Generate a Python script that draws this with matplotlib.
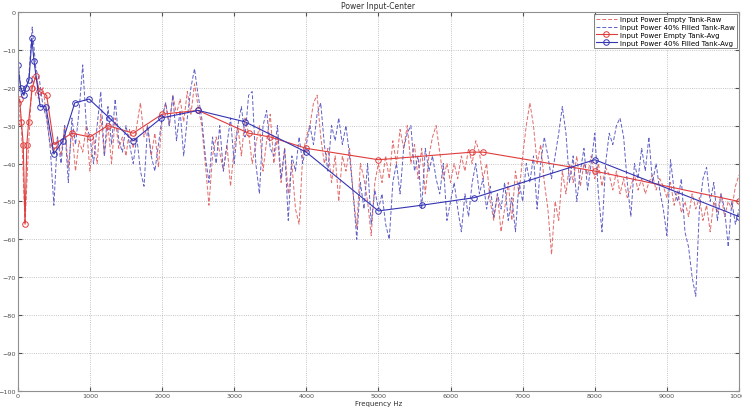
import numpy as np
import matplotlib.pyplot as plt

# raw spectra, one value every 50 Hz (0 .. 10000)
freq_raw = np.arange(0, 10001, 50)

empty_raw = [
    -24, -30, -56, -35, -17, -22, -23, -20, -28, -35,
    -37, -33, -38, -30, -41, -31, -42, -34, -37, -30,
    -42, -33, -40, -27, -38, -30, -40, -28, -36, -33,
    -38, -31, -36, -30, -24, -33, -30, -38, -32, -41,
    -28, -24, -30, -22, -27, -23, -29, -21, -27, -19,
    -25, -30, -40, -51, -38, -33, -37, -42, -35, -46,
    -36, -30, -38, -28, -32, -40, -35, -30, -42, -34,
    -27, -40, -33, -45, -36, -48, -40, -52, -56, -38,
    -33, -30, -24, -22, -33, -40, -36, -45, -38, -50,
    -38, -42, -36, -48, -57, -40, -44, -50, -59, -45,
    -40, -45, -38, -44, -34, -40, -31, -36, -30, -40,
    -35, -44, -36, -48, -38, -33, -30, -37, -44, -40,
    -45, -40, -44, -38, -42, -36, -40, -34, -37, -44,
    -40, -50, -55, -48, -58, -52, -45, -55, -42, -48,
    -38, -30, -24, -30, -40, -35, -45, -52, -64, -50,
    -55, -42, -48, -40, -45, -38, -46, -40, -43, -38,
    -44, -40, -46, -41, -43, -47, -42, -48, -44, -49,
    -46, -43, -47, -44, -48, -45, -43, -47, -44, -46,
    -49, -45, -51, -47, -53, -50, -54, -48, -52, -49,
    -55, -51, -58, -50, -53, -48, -54, -50, -52, -46,
    -43,
]

filled_raw = [
    -12, -22, -21, -18, -4, -15, -18, -25, -28, -36,
    -51, -33, -40, -30, -45, -28, -35, -26, -14, -30,
    -33, -40, -30, -21, -38, -25, -35, -23, -34, -37,
    -30, -35, -40, -33, -42, -46, -30, -38, -42, -35,
    -28, -24, -30, -22, -34, -26, -38, -28, -20, -15,
    -22, -28, -38, -45, -33, -40, -30, -42, -35, -28,
    -40, -30, -25, -33, -22, -21, -40, -48, -30, -26,
    -36, -38, -30, -44, -36, -55, -38, -42, -33, -40,
    -35, -30, -35, -27, -24, -35, -42, -30, -34, -28,
    -35, -30, -38, -48, -60, -45, -52, -40, -56, -47,
    -52, -48, -56, -60, -45, -40, -48, -36, -32, -30,
    -42, -38, -52, -36, -42, -38, -44, -48, -40, -55,
    -50, -45, -52, -58, -48, -54, -45, -40, -48, -44,
    -52, -46, -54, -48, -52, -45, -55, -49, -58, -45,
    -50, -40, -45, -38, -52, -40, -33, -38, -44, -38,
    -32, -25, -32, -45, -38, -50, -42, -36, -47, -40,
    -32, -48, -58, -40, -32, -35, -30, -28, -33, -45,
    -54, -40, -44, -36, -42, -33, -45, -40, -47, -52,
    -59, -39, -47, -50, -44, -58, -62, -70, -75, -52,
    -44, -41, -50, -45, -55, -48, -52, -62, -50, -56,
    -52,
]

# averaged curves
freq_empty_avg = [0, 25, 50, 75, 100, 125, 150, 200, 250, 300, 400, 500, 750,
                  1000, 1250, 1600, 2000, 2500, 3200, 3500, 4000, 5000, 6300,
                  6450, 8000, 10000]
empty_avg = [-24, -23, -29, -35, -56, -35, -29, -20, -17, -21, -22, -35, -32,
             -33, -30, -32, -27, -26, -32, -33, -36, -39, -37,
             -37, -42, -50]

freq_filled_avg = [0, 40, 85, 110, 155, 195, 225, 310, 390, 500, 625, 790, 990,
                   1270, 1600, 1990, 2500, 3150, 4000, 5000, 5600, 6330, 8000,
                   10000]
filled_avg = [-14, -20, -22, -20, -18, -7, -13, -25, -25, -37.5, -34, -24, -23,
              -28, -34, -28, -26, -29, -37, -52.5, -51, -49, -39,
              -54]

fig = plt.figure(figsize=(7.42, 4.14), dpi=100)
ax = fig.add_axes([0.024, 0.053, 0.972, 0.916])

ax.plot(freq_raw, empty_raw, '--', color='#e46a6a', lw=0.7, dashes=(4, 2),
        label='Input Power Empty Tank-Raw')
ax.plot(freq_raw, filled_raw, '--', color='#6060c8', lw=0.7, dashes=(4, 2),
        label='Input Power 40% Filled Tank-Raw')
ax.plot(freq_empty_avg, empty_avg, '-o', color='#e03c3c', lw=0.8, ms=4,
        mfc='none', mew=0.7, label='Input Power Empty Tank-Avg')
ax.plot(freq_filled_avg, filled_avg, '-o', color='#3434b4', lw=0.8, ms=4,
        mfc='none', mew=0.7, label='Input Power 40% Filled Tank-Avg')

ax.set_xlim(0, 10000)
ax.set_ylim(-100, 0)
ax.set_xticks(np.arange(0, 10001, 1000))
ax.set_yticks(np.arange(-100, 1, 10))
ax.grid(True, ls=':', color='#b0b0b0', lw=0.6)
ax.tick_params(direction='in', length=3, labelsize=4.6, colors='#505050',
               top=True, right=True, pad=1.5)
for s in ax.spines.values():
    s.set_color('#909090')

ax.set_title('Power Input-Center', fontsize=5.5, color='#303030', pad=3)
ax.set_xlabel('Frequency Hz', fontsize=5, color='#303030', labelpad=1)

leg = ax.legend(loc='upper right', fontsize=5, frameon=True, fancybox=False,
                handlelength=3, borderpad=0.35, labelspacing=0.25,
                borderaxespad=0.3, handletextpad=0.4)
leg.get_frame().set_edgecolor('#606060')
leg.get_frame().set_linewidth(0.7)

fig.savefig('out.png', dpi=100)
